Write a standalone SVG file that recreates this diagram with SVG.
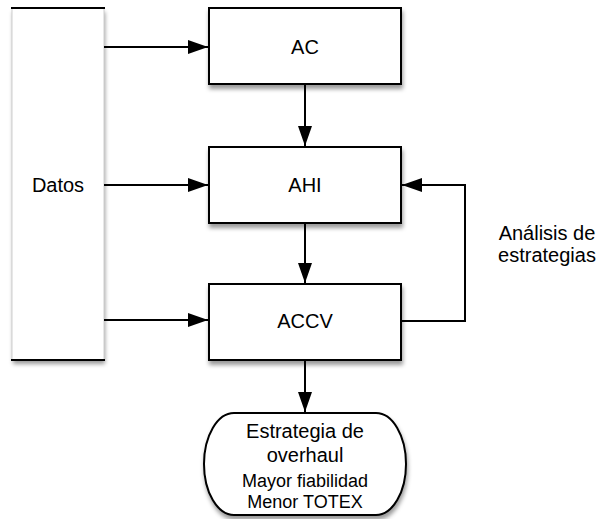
<svg xmlns="http://www.w3.org/2000/svg" width="601" height="519" viewBox="0 0 601 519">
  <defs>
    <filter id="sh" x="-20%" y="-20%" width="140%" height="150%">
      <feDropShadow dx="1" dy="4" stdDeviation="2" flood-color="#000" flood-opacity="0.4"/>
    </filter>
    <marker id="ah" markerWidth="20" markerHeight="14" refX="20" refY="7" orient="auto" markerUnits="userSpaceOnUse">
      <path d="M0,0 L20,7 L0,14 Z" fill="#000"/>
    </marker>
  </defs>
  <style>
    .box { fill: #fff; stroke: #000; stroke-width: 2; }
    .lbl { font-family: "Liberation Sans", Arial, Helvetica, sans-serif; font-size: 20px; fill: #000; text-anchor: middle; }
    .sm { font-size: 18px; }
    .con { fill: none; stroke: #000; stroke-width: 2; }
  </style>
  <rect width="601" height="519" fill="#fff"/>

  <g id="datos">
    <rect x="12" y="8" width="92" height="352" fill="#fff" filter="url(#sh)"/>
    <line x1="12" y1="9" x2="12" y2="359" stroke="#cfcfcf" stroke-width="1"/>
    <line x1="104" y1="9" x2="104" y2="359" stroke="#cfcfcf" stroke-width="1"/>
    <line x1="11" y1="8" x2="105" y2="8" stroke="#000" stroke-width="2"/>
    <line x1="11" y1="360" x2="105" y2="360" stroke="#000" stroke-width="2"/>
    <text class="lbl" x="58" y="192">Datos</text>
  </g>

  <g id="ac">
    <rect class="box" x="209" y="8" width="192" height="76" filter="url(#sh)"/>
    <text class="lbl" x="305" y="54">AC</text>
  </g>

  <g id="ahi">
    <rect class="box" x="209" y="147" width="192" height="76" filter="url(#sh)"/>
    <text class="lbl" x="305" y="192">AHI</text>
  </g>

  <g id="accv">
    <rect class="box" x="209" y="284" width="192" height="76" filter="url(#sh)"/>
    <text class="lbl" x="305" y="328">ACCV</text>
  </g>

  <g id="estrategia">
    <rect class="box" x="204" y="413" width="202" height="102" rx="30" ry="51" filter="url(#sh)"/>
    <text class="lbl" x="305" y="438">Estrategia de</text>
    <text class="lbl" x="305" y="462">overhaul</text>
    <text class="lbl sm" x="305" y="487">Mayor fiabilidad</text>
    <text class="lbl sm" x="305" y="508">Menor TOTEX</text>
  </g>

  <g id="analisis-label">
    <text class="lbl" x="547" y="240">Análisis de</text>
    <text class="lbl" x="547" y="262">estrategias</text>
  </g>

  <g id="connectors">
    <line class="con" x1="104" y1="47" x2="208" y2="47" marker-end="url(#ah)"/>
    <line class="con" x1="104" y1="185" x2="208" y2="185" marker-end="url(#ah)"/>
    <line class="con" x1="104" y1="320" x2="208" y2="320" marker-end="url(#ah)"/>
    <line class="con" x1="305" y1="84" x2="305" y2="146" marker-end="url(#ah)"/>
    <line class="con" x1="305" y1="223" x2="305" y2="283" marker-end="url(#ah)"/>
    <line class="con" x1="305" y1="360" x2="305" y2="412" marker-end="url(#ah)"/>
    <polyline class="con" points="401,321 465,321 465,185 402,185" marker-end="url(#ah)"/>
  </g>
</svg>
